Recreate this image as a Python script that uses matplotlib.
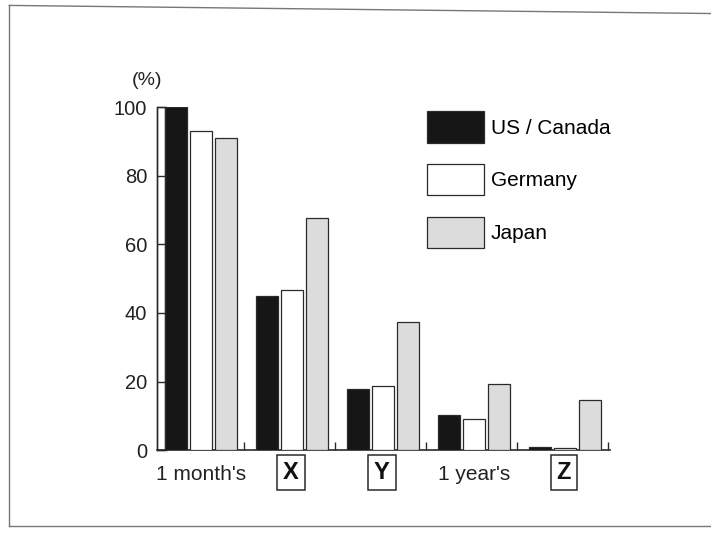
import matplotlib
matplotlib.use("Agg")
import matplotlib.pyplot as plt
from matplotlib.patches import Rectangle
from matplotlib.lines import Line2D
import numpy as np

plt.rcParams['font.family'] = ['Liberation Sans', 'DejaVu Sans']

categories = ["1 month's", "X", "Y", "1 year's", "Z"]
boxed = [False, True, True, False, True]
series_names = ["US / Canada", "Germany", "Japan"]
us_canada = [100, 45, 17.8, 10.2, 1.0]
germany = [93, 46.6, 18.7, 9.0, 0.5]
japan = [91, 67.6, 37.3, 19.2, 14.5]
yticks = [0, 20, 40, 60, 80, 100]

colors = ["#161616", "#ffffff", "#dcdcdc"]
edge = "#2a2a2a"

fig = plt.figure(figsize=(7.11, 5.41), dpi=100)
ax = fig.add_axes([0.2208, 0.168, 0.637, 0.634])

x = np.arange(len(categories))
w = 0.245
step = 0.275
for k, vals in enumerate([us_canada, germany, japan]):
    ax.bar(x + (k - 1) * step, vals, width=w, color=colors[k],
           edgecolor=edge, linewidth=0.9, label=series_names[k], zorder=3)

xl, xr = -0.485, 4.49
ax.set_xlim(xl, xr)
ax.set_ylim(0, 100)

# narrow y-axis box
bar_left = 0 - step - w / 2
ax.add_patch(Rectangle((xl, 0), bar_left - xl, 100, fill=False,
                       edgecolor=edge, linewidth=1.0, zorder=4, clip_on=False))

for s in ["top", "right"]:
    ax.spines[s].set_visible(False)
ax.spines["left"].set_linewidth(1.0)
ax.spines["bottom"].set_linewidth(1.2)
ax.spines["left"].set_color(edge)
ax.spines["bottom"].set_color(edge)

ax.set_yticks(yticks)
ax.set_yticklabels([str(v) for v in yticks], fontsize=14.5, color="#222222")
ax.tick_params(axis="y", direction="in", length=7, width=1.0, color=edge, pad=7)

ax.set_xticks(x + 0.47)
ax.set_xticklabels([])
ax.tick_params(axis="x", direction="in", length=6, width=1.0, color=edge)

for i, (c, b) in enumerate(zip(categories, boxed)):
    if b:
        ax.text(i - 0.015, -6.5, c, ha="center", va="center", fontsize=17,
                fontweight="bold", color="#111111",
                bbox=dict(boxstyle="square,pad=0.25", fc="white", ec=edge, lw=1.1))
    else:
        ax.text(i, -7.0, c, ha="center", va="center", fontsize=15, color="#222222")

ax.text(-0.6, 107.7, "(%)", ha="center", va="center", fontsize=14, color="#222222")

leg = ax.legend(loc="upper left", bbox_to_anchor=(0.555, 1.043), frameon=False,
                fontsize=15, handlelength=2.75, handleheight=1.95,
                labelspacing=1.02, handletextpad=0.3)

# scanned frame
fc = "#777777"
fig.add_artist(Line2D([0.013, 0.013], [0.027, 0.99], color=fc, lw=1.0))
fig.add_artist(Line2D([0.013, 1.0], [0.99, 0.975], color=fc, lw=1.0))
fig.add_artist(Line2D([0.013, 1.0], [0.027, 0.027], color=fc, lw=1.0))

fig.savefig("out.png", dpi=100)
